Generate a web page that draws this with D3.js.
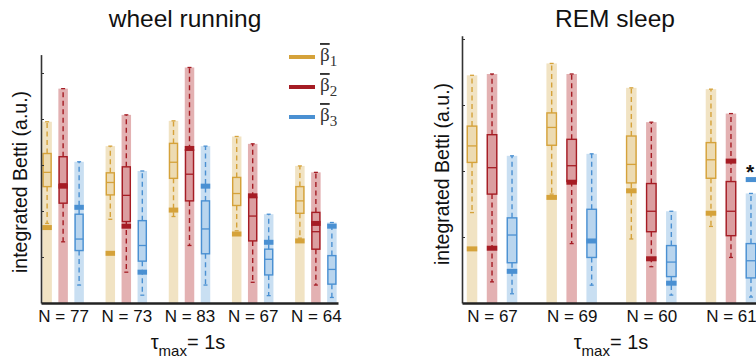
<!DOCTYPE html>
<html>
<head>
<meta charset="utf-8">
<script src="https://cdn.jsdelivr.net/npm/d3@7"></script>
<style>
  body { margin: 0; background: #fff; }
  text { font-family: "Liberation Sans", Arial, sans-serif; }
</style>
</head>
<body>
<svg id="chart" width="756" height="360"></svg>
<script>
// each bar: [whisker low, q1, median, q3, whisker high, marker]
const series = ["b1", "b2", "b3"];

// WHEEL RUNNING
const wheelGroups = ["N = 77", "N = 73", "N = 83", "N = 67", "N = 64"];
const wheelB1 = [
    [1.73, 2.53, 2.84, 3.25, 3.94, 1.64],
    [1.82, 2.35, 2.62, 2.83, 3.41, 1.08],
    [1.88, 2.71, 3.06, 3.47, 3.96, 2.02],
    [1.57, 2.12, 2.38, 2.73, 3.62, 1.50],
    [1.41, 1.95, 2.22, 2.53, 2.98, 1.35]
];
const wheelB2 = [
    [1.33, 2.17, 2.59, 3.18, 4.66, 2.54],
    [0.67, 1.77, 2.34, 2.96, 4.09, 1.67],
    [1.25, 2.22, 2.80, 3.33, 5.12, 3.36],
    [0.45, 1.35, 1.89, 2.30, 3.46, 2.33],
    [0.39, 1.17, 1.55, 1.97, 2.84, 1.73]
];
const wheelB3 = [
    [0.39, 1.14, 1.39, 1.93, 3.07, 2.08],
    [0.17, 0.91, 1.25, 1.79, 2.87, 0.67],
    [0.39, 1.07, 1.61, 2.22, 3.41, 2.54],
    [0.16, 0.61, 0.95, 1.17, 1.93, 1.32],
    [0.12, 0.41, 0.73, 1.03, 1.75, 1.67]
];

// REM SLEEP
const remGroups = ["N = 67", "N = 69", "N = 60", "N = 61"];
const remB1 = [
    [1.37, 2.13, 2.38, 2.68, 3.45, 0.82],
    [1.65, 2.39, 2.66, 2.88, 3.63, 1.60],
    [0.97, 1.82, 2.10, 2.53, 3.26, 1.70],
    [1.16, 1.89, 2.17, 2.43, 3.24, 1.36]
];
const remB2 = [
    [0.32, 1.65, 2.05, 2.55, 3.47, 0.83],
    [0.90, 1.84, 2.08, 2.48, 3.47, 1.83],
    [0.55, 1.08, 1.39, 1.81, 2.74, 0.67],
    [0.69, 1.02, 1.39, 1.84, 2.87, 2.15]
];
const remB3 = [
    [0.14, 0.61, 1.03, 1.29, 2.23, 0.48],
    [0.27, 0.69, 0.95, 1.42, 2.26, 0.94],
    [0.12, 0.40, 0.62, 0.87, 1.39, 0.30],
    [0.09, 0.38, 0.64, 0.90, 1.66, 1.87]
];
const remStars = [["N = 61", "b3"]];

const colors = { b1: "#d5a23a", b2: "#a51c24", b3: "#4a90d2" };
const shades = { b1: "#f1e3c3", b2: "#e3b1b2", b3: "#c9dff2" };
const legendSubs = ["1", "2", "3"];

const svg = d3.select("#chart");
const baseY = 303;

function drawPanel(p) {
    const x = d3.scalePoint().domain(p.groups).range(p.xRange).padding(p.pad);
    const off = d3.scalePoint().domain(series).range([-p.gap, p.gap]);
    const y = d3.scaleLinear().domain(p.yDomain).range([baseY, p.yTop]);
    const g = svg.append("g");

    const rows = [];
    p.groups.forEach((grp, i) => {
        series.forEach(s => {
            const v = p.data[s][i];
            rows.push({ grp, s, lo: v[0], q1: v[1], med: v[2], q3: v[3], hi: v[4], mk: v[5] });
        });
    });
    const cx = d => x(d.grp) + off(d.s);

    // shaded background bars
    g.selectAll(".shade").data(rows).join("rect")
        .attr("x", d => cx(d) - p.bw / 2)
        .attr("y", d => y(d.hi))
        .attr("width", p.bw)
        .attr("height", d => y(0) - y(d.hi))
        .attr("fill", d => shades[d.s]);

    // dashed whiskers
    const wh = [];
    rows.forEach(d => { wh.push({ d, a: d.q3, b: d.hi }); wh.push({ d, a: d.q1, b: d.lo }); });
    g.selectAll(".whisk").data(wh).join("line")
        .attr("x1", w => cx(w.d)).attr("x2", w => cx(w.d))
        .attr("y1", w => y(w.a)).attr("y2", w => y(w.b))
        .attr("stroke", w => colors[w.d.s])
        .attr("stroke-width", 1.4)
        .attr("stroke-dasharray", "5,3.5");
    g.selectAll(".cap").data(wh).join("line")
        .attr("x1", w => cx(w.d) - 2).attr("x2", w => cx(w.d) + 2)
        .attr("y1", w => y(w.b)).attr("y2", w => y(w.b))
        .attr("stroke", w => colors[w.d.s])
        .attr("stroke-width", 1.3);

    // boxes
    g.selectAll(".box").data(rows).join("rect")
        .attr("x", d => cx(d) - p.boxW / 2)
        .attr("y", d => y(d.q3))
        .attr("width", p.boxW)
        .attr("height", d => y(d.q1) - y(d.q3))
        .attr("fill", d => colors[d.s])
        .attr("fill-opacity", 0.12)
        .attr("stroke", d => colors[d.s])
        .attr("stroke-width", 1.4);
    g.selectAll(".med").data(rows).join("line")
        .attr("x1", d => cx(d) - p.boxW / 2).attr("x2", d => cx(d) + p.boxW / 2)
        .attr("y1", d => y(d.med)).attr("y2", d => y(d.med))
        .attr("stroke", d => colors[d.s])
        .attr("stroke-width", 1.3);

    // markers
    g.selectAll(".mark").data(rows).join("rect")
        .attr("x", d => cx(d) - p.bw / 2)
        .attr("y", d => y(d.mk) - 2.5)
        .attr("width", p.bw)
        .attr("height", 5)
        .attr("fill", d => colors[d.s]);

    // significance stars
    const starRows = rows.filter(d => (p.stars || []).some(st => st[0] === d.grp && st[1] === d.s));
    g.selectAll(".star").data(starRows).join("text")
        .attr("x", d => cx(d) - 1)
        .attr("y", d => y(d.mk) - 1)
        .attr("text-anchor", "middle")
        .style("font-size", "21px")
        .style("font-weight", "bold")
        .attr("fill", "#111")
        .text("*");

    // y axis (no labels, inward ticks)
    const ya = g.append("g")
        .attr("transform", `translate(${p.xRange[0]},0)`)
        .call(d3.axisLeft(y).tickValues(p.ticks).tickSizeInner(-3).tickSizeOuter(0).tickFormat(""));
    ya.select(".domain").attr("stroke", "#333").attr("stroke-width", 1.6);
    ya.selectAll(".tick line").attr("stroke", "#333").attr("stroke-width", 1);

    // x axis
    const xa = g.append("g")
        .attr("transform", `translate(0,${baseY})`)
        .call(d3.axisBottom(x).tickSize(0).tickPadding(7).tickSizeOuter(0));
    xa.select(".domain").attr("stroke", "#222").attr("stroke-width", 2.4);
    xa.selectAll(".tick text")
        .style("font-size", "17px")
        .style("font-family", "'Liberation Sans', Arial, sans-serif")
        .attr("fill", "#111");

    // title
    svg.append("text")
        .attr("x", p.titleX).attr("y", 27)
        .attr("text-anchor", "middle")
        .style("font-size", "24.5px")
        .attr("fill", "#111")
        .text(p.title);

    // y label
    svg.append("text")
        .attr("transform", `translate(${p.ylabX},${p.ylabY}) rotate(-90)`)
        .attr("text-anchor", "middle")
        .attr("dy", "0.35em")
        .style("font-size", "19.5px")
        .attr("fill", "#111")
        .text("integrated Betti (a.u.)");

    // tau label
    const t = svg.append("text")
        .attr("x", p.tauX).attr("y", 349)
        .attr("text-anchor", "middle")
        .attr("fill", "#111")
        .style("font-size", "20px");
    t.append("tspan").text("τ");
    t.append("tspan").attr("dy", 7).style("font-size", "15px").text("max");
    t.append("tspan").attr("dy", -7).text("= 1s");
}

drawPanel({
    groups: wheelGroups,
    data: { b1: wheelB1, b2: wheelB2, b3: wheelB3 },
    xRange: [41, 338], pad: 0.35, gap: 16, bw: 9.5, boxW: 8,
    yDomain: [0, 5.4], yTop: baseY - 5.4 * 46, ticks: [1, 2, 3, 4, 5],
    title: "wheel running", titleX: 185,
    ylabX: 20, ylabY: 182, tauX: 188
});

drawPanel({
    groups: remGroups,
    data: { b1: remB1, b2: remB2, b3: remB3 },
    stars: remStars,
    xRange: [462, 761], pad: 0.377, gap: 20, bw: 10.5, boxW: 9.5,
    yDomain: [0, 4.05], yTop: baseY - 4.05 * 66, ticks: [1, 2, 3, 4],
    title: "REM sleep", titleX: 615,
    ylabX: 442, ylabY: 174, tauX: 611
});

// legend
const leg = svg.append("g");
series.forEach((s, i) => {
    const ly = 57 + i * 30;
    leg.append("line")
        .attr("x1", 289).attr("x2", 315)
        .attr("y1", ly).attr("y2", ly)
        .attr("stroke", colors[s])
        .attr("stroke-width", 4);
    const lt = leg.append("text")
        .attr("x", 320).attr("y", ly + 4)
        .attr("fill", "#333")
        .style("font-family", "'Liberation Serif', 'Times New Roman', serif")
        .style("font-size", "19px");
    lt.append("tspan").style("text-decoration", "overline").text("β");
    lt.append("tspan").attr("dy", 5).style("font-size", "15px").text(legendSubs[i]);
});
</script>
</body>
</html>
